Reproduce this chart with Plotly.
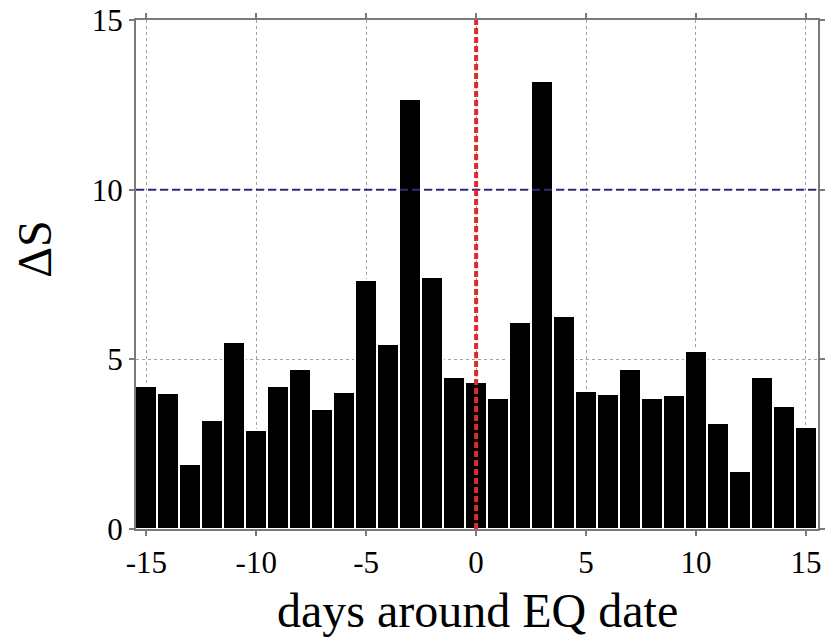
import plotly.graph_objects as go

# days relative to the earthquake date and the ΔS value for each day
days = list(range(-15, 16))
delta_s = [4.20, 4.01, 1.91, 3.21, 5.50, 2.92, 4.20, 4.71, 3.53, 4.03,
           7.35, 5.45, 12.67, 7.43, 4.49, 4.33, 3.87, 6.09, 13.20, 6.29,
           4.07, 3.98, 4.71, 3.85, 3.95, 5.25, 3.13, 1.72, 4.49, 3.62, 3.00]

x_ticks = [-15, -10, -5, 0, 5, 10, 15]
x_labels = [str(v) for v in x_ticks]  # plain hyphen for negatives
y_ticks = [0, 5, 10, 15]
threshold = 10
eq_day = 0

serif = "Liberation Serif, Times New Roman, serif"

fig = go.Figure()
fig.add_trace(go.Bar(
    x=days, y=delta_s, width=1.0,
    marker=dict(color="black", line=dict(color="white", width=2)),
    showlegend=False, hoverinfo="x+y",
))

# threshold level and earthquake day markers
fig.add_shape(type="line", xref="paper", x0=0, x1=1, yref="y", y0=threshold, y1=threshold,
              line=dict(color="#2b2b84", width=2, dash="8px,4px"), layer="above")
fig.add_shape(type="line", xref="x", x0=eq_day, x1=eq_day, yref="y", y0=0, y1=15,
              line=dict(color="#dd2a2a", width=4, dash="6px,3px"), layer="above")

axis_common = dict(
    showline=True, linecolor="#7a7a7a", linewidth=2, mirror="ticks",
    ticks="outside", ticklen=5, tickcolor="#7a7a7a", tickwidth=1.5,
    showgrid=True, gridcolor="#a0a0a0", griddash="dot", gridwidth=1,
    zeroline=False, automargin=False,
    tickfont=dict(family=serif, size=31, color="black"),
)

fig.update_xaxes(range=[-15.47, 15.55], tickvals=x_ticks, ticktext=x_labels, **axis_common)
fig.update_yaxes(range=[0, 15], tickvals=y_ticks, **axis_common)

fig.add_annotation(text="days around EQ date", xref="paper", yref="paper",
                   x=0.5, y=-0.16, yanchor="middle", showarrow=False,
                   font=dict(family=serif, size=48, color="black"))
fig.add_annotation(text="ΔS", xref="paper", yref="paper",
                   x=-0.15, y=0.55, xanchor="center", yanchor="middle",
                   textangle=-90, showarrow=False,
                   font=dict(family=serif, size=48, color="black"))

fig.update_layout(
    width=826, height=639,
    margin=dict(l=136, r=8, t=20, b=110),
    plot_bgcolor="white", paper_bgcolor="white",
    bargap=0,
)

fig.write_html("out.html")
